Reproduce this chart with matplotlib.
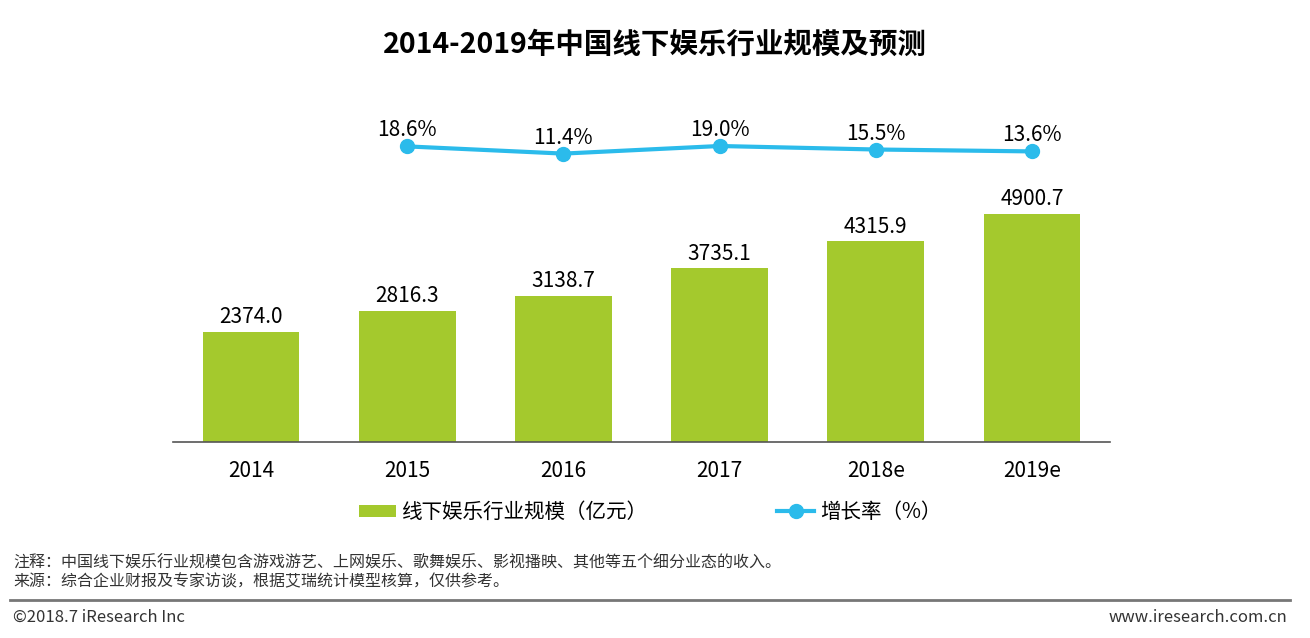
import matplotlib.pyplot as plt
from matplotlib.lines import Line2D

plt.rcParams['font.family'] = ['Noto Sans CJK SC', 'DejaVu Sans']

# 数据
years = ['2014', '2015', '2016', '2017', '2018e', '2019e']
scale = [2374.0, 2816.3, 3138.7, 3735.1, 4315.9, 4900.7]
growth_years = ['2015', '2016', '2017', '2018e', '2019e']
growth = [18.6, 11.4, 19.0, 15.5, 13.6]

bar_color = '#A4C92D'
line_color = '#2BBBEB'

W, H = 1310, 638
fig = plt.figure(figsize=(W / 100, H / 100), dpi=100)

ax = fig.add_axes([173 / W, (H - 442) / H, 937 / W, 342 / H])
x = list(range(len(years)))
bars = ax.bar(x, scale, width=0.62, color=bar_color, label='线下娱乐行业规模（亿元）')
for xi, v in zip(x, scale):
    ax.text(xi, v + 80, f'{v:.1f}', ha='center', va='bottom', fontsize=15, color='black')
ax.set_xlim(-0.5, len(years) - 0.5)
ax.set_ylim(0, 7355)
ax.set_xticks(x)
ax.set_xticklabels(years, fontsize=15)
ax.tick_params(axis='x', length=0, pad=13)
ax.set_yticks([])
for s in ['top', 'right', 'left']:
    ax.spines[s].set_visible(False)
ax.spines['bottom'].set_color('#555555')
ax.spines['bottom'].set_linewidth(1.2)

ax2 = ax.twinx()
gx = [years.index(y) for y in growth_years]
line, = ax2.plot(gx, growth, color=line_color, lw=3, marker='o', ms=10,
                 label='增长率（%）')
for xi, v in zip(gx, growth):
    ax2.text(xi, v + 5, f'{v:.1f}%', ha='center', va='bottom', fontsize=15, color='black')
ax2.set_ylim(-277, 65)
ax2.set_yticks([])
for s in ['top', 'right', 'left', 'bottom']:
    ax2.spines[s].set_visible(False)

fig.text(655 / W, 1 - 45 / H, '2014-2019年中国线下娱乐行业规模及预测',
         ha='center', va='center', fontsize=20.5, fontweight='bold')

fig.legend(handles=[bars, line], loc='center left', bbox_to_anchor=(340 / W, 1 - 512 / H),
           ncol=2, frameon=False, fontsize=14.8, handlelength=1.8, handleheight=0.5,
           handletextpad=0.3, columnspacing=6.3)

fig.text(13 / W, 1 - 563 / H, '注释：中国线下娱乐行业规模包含游戏游艺、上网娱乐、歌舞娱乐、影视播映、其他等五个细分业态的收入。',
         ha='left', va='center', fontsize=11.5, color='#333333')
fig.text(13 / W, 1 - 582 / H, '来源：综合企业财报及专家访谈，根据艾瑞统计模型核算，仅供参考。',
         ha='left', va='center', fontsize=11.5, color='#333333')
fig.add_artist(Line2D([10 / W, 1290 / W], [1 - 600 / H, 1 - 600 / H], color='#777777', lw=2))
fig.text(13 / W, 1 - 617 / H, '©2018.7 iResearch Inc', ha='left', va='center',
         fontsize=12, color='#333333')
fig.text(1287 / W, 1 - 617 / H, 'www.iresearch.com.cn', ha='right', va='center',
         fontsize=12, color='#333333')

fig.savefig('out.png', dpi=100)
